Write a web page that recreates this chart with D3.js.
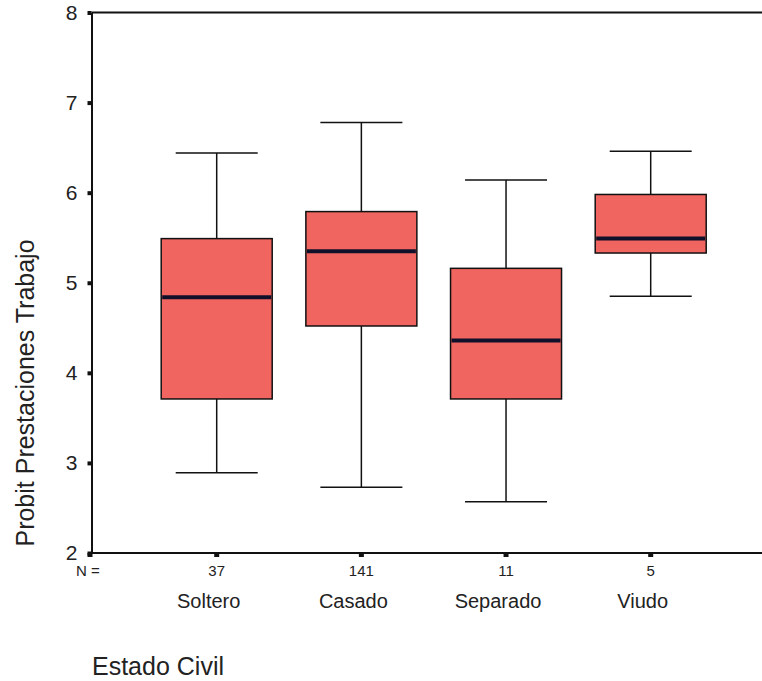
<!DOCTYPE html>
<html>
<head>
<meta charset="utf-8">
<script src="https://cdn.jsdelivr.net/npm/d3@7"></script>
<style>
  body { margin: 0; background: #fff; }
  text { font-family: Arial, "Liberation Sans", sans-serif; fill: #222; }
</style>
</head>
<body>
<svg id="chart"></svg>
<script>
// Box plot values
var categories = ["Soltero", "Casado", "Separado", "Viudo"];
var counts = [37, 141, 11, 5];
var whiskerLow = [2.89, 2.73, 2.57, 4.85];
var q1 = [3.71, 4.52, 3.71, 5.33];
var median = [4.84, 5.35, 4.36, 5.49];
var q3 = [5.49, 5.79, 5.16, 5.98];
var whiskerHigh = [6.44, 6.78, 6.14, 6.46];
var yTicks = [2, 3, 4, 5, 6, 7, 8];

var svgWidth = 762, svgHeight = 681;
// plot edges (don't call it "top", that's window.top)
var plotLeft = 91.5, plotRight = 762, plotTop = 12.5, plotBottom = 553;
var boxWidth = 111, capWidth = 82;

var svg = d3.select("#chart")
  .attr("width", svgWidth)
  .attr("height", svgHeight);

var yScale = d3.scaleLinear().domain([2, 8]).range([plotBottom, plotTop]);
var xScale = d3.scalePoint().domain(categories).range([216.7, 650.7]);

var boxes = categories.map(function(c, i) {
  return { cat: c, n: counts[i], lo: whiskerLow[i], q1: q1[i], med: median[i], q3: q3[i], hi: whiskerHigh[i] };
});

// frame: top line, left axis, bottom axis
svg.append("line")
  .attr("x1", plotLeft).attr("x2", plotRight).attr("y1", plotTop).attr("y2", plotTop)
  .attr("stroke", "#111").attr("stroke-width", 2);

var yAxis = d3.axisLeft(yScale).tickValues(yTicks).tickSize(0).tickPadding(14).tickFormat(d3.format("d"));
var gy = svg.append("g").attr("transform", "translate(" + plotLeft + ",0)").call(yAxis);
gy.select(".domain").attr("stroke", "#111").attr("stroke-width", 2);
gy.selectAll(".tick text").attr("font-size", 21).attr("fill", "#222")
  .attr("font-family", "Arial, 'Liberation Sans', sans-serif");
gy.selectAll(".tick").append("rect")
  .attr("x", -4).attr("y", -2).attr("width", 4).attr("height", 4).attr("fill", "#111");

svg.append("line")
  .attr("x1", plotLeft).attr("x2", plotRight).attr("y1", plotBottom).attr("y2", plotBottom)
  .attr("stroke", "#111").attr("stroke-width", 2);

// x tick marks as little squares below the axis
svg.selectAll(".xtick")
  .data(categories)
  .enter()
  .append("rect")
  .attr("x", function(d) { return xScale(d) - 2.5; })
  .attr("y", plotBottom)
  .attr("width", 5).attr("height", 4)
  .attr("fill", "#111");
svg.append("rect").attr("x", plotLeft - 4).attr("y", plotBottom).attr("width", 5).attr("height", 4).attr("fill", "#111");

// whiskers
var g = svg.selectAll(".box").data(boxes).enter().append("g").attr("class", "box");

g.append("line")
  .attr("x1", function(d) { return xScale(d.cat); })
  .attr("x2", function(d) { return xScale(d.cat); })
  .attr("y1", function(d) { return yScale(d.hi); })
  .attr("y2", function(d) { return yScale(d.lo); })
  .attr("stroke", "#111").attr("stroke-width", 1.5);

g.selectAll(".cap")
  .data(function(d) { return [d, d]; })
  .enter()
  .append("line")
  .attr("x1", function(d) { return xScale(d.cat) - capWidth / 2; })
  .attr("x2", function(d) { return xScale(d.cat) + capWidth / 2; })
  .attr("y1", function(d, i) { return yScale(i ? d.lo : d.hi); })
  .attr("y2", function(d, i) { return yScale(i ? d.lo : d.hi); })
  .attr("stroke", "#111").attr("stroke-width", 1.5);

// boxes
g.append("rect")
  .attr("x", function(d) { return xScale(d.cat) - boxWidth / 2; })
  .attr("y", function(d) { return yScale(d.q3); })
  .attr("width", boxWidth)
  .attr("height", function(d) { return yScale(d.q1) - yScale(d.q3); })
  .attr("fill", "#f0655f")
  .attr("stroke", "#111").attr("stroke-width", 1.5);

// medians
g.append("line")
  .attr("x1", function(d) { return xScale(d.cat) - boxWidth / 2 + 1; })
  .attr("x2", function(d) { return xScale(d.cat) + boxWidth / 2 - 1; })
  .attr("y1", function(d) { return yScale(d.med); })
  .attr("y2", function(d) { return yScale(d.med); })
  .attr("stroke", "#10102a").attr("stroke-width", 4);

// counts and category names
svg.append("text").attr("x", 88).attr("y", 576).attr("text-anchor", "middle")
  .attr("font-size", 15).text("N =");

svg.selectAll(".count")
  .data(boxes)
  .enter()
  .append("text")
  .attr("x", function(d) { return xScale(d.cat); })
  .attr("y", 576)
  .attr("text-anchor", "middle")
  .attr("font-size", 15)
  .text(function(d) { return d.n; });

svg.selectAll(".cat")
  .data(categories)
  .enter()
  .append("text")
  .attr("x", function(d) { return xScale(d) - 8; })
  .attr("y", 608)
  .attr("text-anchor", "middle")
  .attr("font-size", 20)
  .text(function(d) { return d; });

// axis titles
svg.append("text").attr("x", 92).attr("y", 675).attr("font-size", 25).text("Estado Civil");

svg.append("text")
  .attr("transform", "translate(34,393) rotate(-90)")
  .attr("text-anchor", "middle")
  .attr("font-size", 25)
  .text("Probit Prestaciones Trabajo");
</script>
</body>
</html>
